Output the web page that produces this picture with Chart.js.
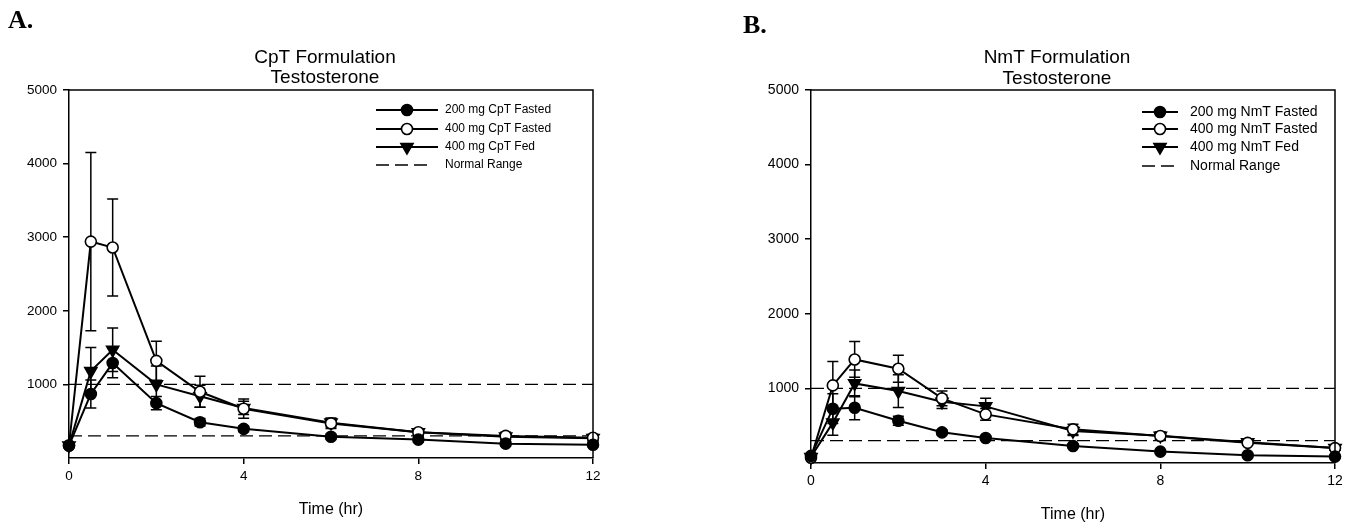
<!DOCTYPE html>
<html>
<head>
<meta charset="utf-8">
<script src="https://cdn.jsdelivr.net/npm/chart.js@4.4.1/dist/chart.umd.min.js"></script>
<style>
    html, body { margin: 0; padding: 0; background: #fff; }
    body { position: relative; width: 1356px; height: 529px; overflow: hidden; }
    .panel { position: absolute; top: 0; height: 529px; }
    #panel-a { left: 0; width: 700px; }
    #panel-b { left: 700px; width: 656px; }
</style>
</head>
<body>
<div class="panel" id="panel-a"><canvas id="cpt-chart" width="700" height="529"></canvas></div>
<div class="panel" id="panel-b"><canvas id="nmt-chart" width="656" height="529"></canvas></div>
<script>
// sampling times (hr)
const times = [0, 0.5, 1, 2, 3, 4, 6, 8, 10, 12];
const xTicks = [0, 4, 8, 12];
const yTicks = [1000, 2000, 3000, 4000, 5000];
const normalRange = [300, 1000];

// panel A - CpT, testosterone (ng/dL), mean and SD
const cpt200Fasted = [170, 870, 1290, 745, 486, 396, 288, 250, 195, 180];
const cpt200FastedSd = [0, 190, 200, 90, 50, 40, 35, 35, 30, 30];
const cpt400Fasted = [170, 2940, 2860, 1320, 900, 670, 470, 350, 300, 275];
const cpt400FastedSd = [0, 1210, 660, 265, 210, 130, 70, 40, 50, 45];
const cpt400Fed = [170, 1180, 1470, 1000, 840, 680, 480, 350, 290, 270];
const cpt400FedSd = [0, 320, 295, 250, 150, 90, 60, 40, 40, 40];

// panel B - NmT
const nmt200Fasted = [95, 728, 741, 567, 411, 335, 228, 153, 104, 86];
const nmt200FastedSd = [0, 200, 160, 60, 30, 30, 25, 20, 20, 20];
const nmt400Fasted = [70, 1040, 1388, 1263, 866, 652, 451, 362, 270, 200];
const nmt400FastedSd = [0, 320, 240, 180, 100, 80, 70, 40, 30, 30];
const nmt400Fed = [80, 541, 1067, 964, 821, 759, 429, 366, 278, 200];
const nmt400FedSd = [0, 170, 180, 220, 90, 110, 60, 50, 30, 30];

const cptNames = ['200 mg CpT Fasted', '400 mg CpT Fasted', '400 mg CpT Fed', 'Normal Range'];
const nmtNames = ['200 mg NmT Fasted', '400 mg NmT Fasted', '400 mg NmT Fed', 'Normal Range'];

const FONT = '"Liberation Sans", Arial, sans-serif';
Chart.defaults.font.family = FONT;
Chart.defaults.color = '#000';

const markerStyles = [
    { pointStyle: 'circle', radius: 5.5, fill: '#000', rotation: 0 },
    { pointStyle: 'circle', radius: 5.5, fill: '#fff', rotation: 0 },
    { pointStyle: 'triangle', radius: 7, fill: '#000', rotation: 180 },
];

function series(values, sd, style, label) {
    return {
        label,
        data: times.map((t, i) => ({ x: t, y: values[i] })),
        errors: sd,
        borderColor: '#000',
        borderWidth: 2,
        backgroundColor: style.fill,
        pointBackgroundColor: style.fill,
        pointBorderColor: '#000',
        pointBorderWidth: 1.6,
        pointStyle: style.pointStyle,
        pointRotation: style.rotation,
        pointRadius: style.radius,
        tension: 0,
        clip: false,
    };
}

function rangeLine(value) {
    return {
        label: 'Normal Range',
        data: [{ x: 0, y: value }, { x: 12, y: value }],
        borderColor: '#000',
        borderWidth: 1.3,
        borderDash: [13, 6],
        pointRadius: 0,
        order: 10,
    };
}

const errorBars = {
    id: 'errorBars',
    beforeDatasetsDraw(chart) {
        const { ctx } = chart;
        const xs = chart.scales.x;
        const ys = chart.scales.y;
        ctx.save();
        ctx.strokeStyle = '#000';
        ctx.lineWidth = 1.5;
        chart.data.datasets.forEach((ds) => {
            if (!ds.errors) return;
            ds.data.forEach((p, i) => {
                const sd = ds.errors[i];
                if (!sd) return;
                const x = xs.getPixelForValue(p.x);
                const hi = ys.getPixelForValue(p.y + sd);
                const lo = ys.getPixelForValue(Math.max(p.y - sd, 0));
                ctx.beginPath();
                ctx.moveTo(x, hi); ctx.lineTo(x, lo);
                ctx.moveTo(x - 5.5, hi); ctx.lineTo(x + 5.5, hi);
                ctx.moveTo(x - 5.5, lo); ctx.lineTo(x + 5.5, lo);
                ctx.stroke();
            });
        });
        ctx.restore();
    },
};

const figureText = {
    id: 'figureText',
    afterDraw(chart, args, opts) {
        const { ctx, chartArea: area } = chart;
        ctx.save();

        // frame top and right
        ctx.strokeStyle = '#000';
        ctx.lineWidth = 1.5;
        ctx.beginPath();
        ctx.moveTo(area.left, area.top);
        ctx.lineTo(area.right, area.top);
        ctx.lineTo(area.right, area.bottom);
        ctx.stroke();

        ctx.fillStyle = '#000';
        ctx.textBaseline = 'alphabetic';
        ctx.textAlign = 'left';
        ctx.font = 'bold 26px "Liberation Serif", "Times New Roman", serif';
        ctx.fillText(opts.panel, opts.panelX, opts.panelY);

        ctx.textAlign = 'center';
        ctx.textBaseline = 'middle';
        ctx.font = `19px ${FONT}`;
        opts.title.forEach((line, i) => ctx.fillText(line, opts.titleX, opts.titleY[i]));

        ctx.font = `16px ${FONT}`;
        ctx.fillText('Time (hr)', (area.left + area.right) / 2, opts.xTitleY);

        // legend
        const lg = opts.legend;
        ctx.font = `${lg.fontSize}px ${FONT}`;
        ctx.textAlign = 'left';
        lg.names.forEach((name, i) => {
            const y = lg.rows[i];
            ctx.lineWidth = 2;
            ctx.beginPath();
            if (i < 3) {
                ctx.setLineDash([]);
                ctx.moveTo(lg.x0, y);
                ctx.lineTo(lg.x1, y);
                ctx.stroke();
                const st = markerStyles[i];
                ctx.fillStyle = st.fill;
                ctx.lineWidth = 1.6;
                Chart.helpers.drawPoint(ctx, {
                    pointStyle: st.pointStyle,
                    radius: st.radius,
                    rotation: st.rotation,
                    borderWidth: 1.6,
                }, (lg.x0 + lg.x1) / 2, y);
            } else {
                ctx.lineWidth = 1.3;
                ctx.setLineDash([13, 6]);
                ctx.moveTo(lg.x0, y);
                ctx.lineTo(lg.dashEnd, y);
                ctx.stroke();
                ctx.setLineDash([]);
            }
            ctx.fillStyle = '#000';
            ctx.fillText(name, lg.textX, y);
        });
        ctx.restore();
    },
};

function makeChart(canvasId, datasets, cfg) {
    return new Chart(document.getElementById(canvasId), {
        type: 'line',
        data: { datasets },
        plugins: [errorBars, figureText],
        options: {
            responsive: false,
            animation: false,
            events: [],
            layout: { padding: { left: 0, top: 90, right: cfg.padRight, bottom: 0 } },
            plugins: {
                legend: { display: false },
                tooltip: { enabled: false },
                figureText: cfg.text,
            },
            scales: {
                x: {
                    type: 'linear',
                    min: 0,
                    max: 12,
                    afterBuildTicks: (scale) => { scale.ticks = xTicks.map((v) => ({ value: v })); },
                    afterFit: (scale) => { scale.height = cfg.xHeight; },
                    border: { display: true, color: '#000', width: 1.5 },
                    grid: { drawOnChartArea: false, drawTicks: true, tickLength: 6, color: '#000', lineWidth: 1.5 },
                    ticks: { font: { size: cfg.tickSize }, color: '#000', padding: 4, maxRotation: 0, callback: (v) => String(v) },
                },
                y: {
                    type: 'linear',
                    min: 0,
                    max: 5000,
                    afterBuildTicks: (scale) => { scale.ticks = yTicks.map((v) => ({ value: v })); },
                    afterFit: (scale) => { scale.width = cfg.yWidth; },
                    border: { display: true, color: '#000', width: 1.5 },
                    grid: { drawOnChartArea: false, drawTicks: true, tickLength: 6, color: '#000', lineWidth: 1.5 },
                    ticks: { font: { size: cfg.tickSize }, color: '#000', padding: 6, callback: (v) => String(v) },
                },
            },
        },
    });
}

makeChart('cpt-chart', [
    series(cpt200Fasted, cpt200FastedSd, markerStyles[0], cptNames[0]),
    series(cpt400Fasted, cpt400FastedSd, markerStyles[1], cptNames[1]),
    series(cpt400Fed, cpt400FedSd, markerStyles[2], cptNames[2]),
    rangeLine(normalRange[0]),
    rangeLine(normalRange[1]),
], {
    padRight: 107,
    xHeight: 71,
    yWidth: 69,
    tickSize: 13.5,
    text: {
        panel: 'A.', panelX: 8, panelY: 28,
        title: ['CpT Formulation', 'Testosterone'], titleX: 325, titleY: [58, 78],
        xTitleY: 510,
        legend: { names: cptNames, rows: [110, 129, 147, 165], x0: 376, x1: 438, dashEnd: 428, textX: 445, fontSize: 12 },
    },
});

makeChart('nmt-chart', [
    series(nmt200Fasted, nmt200FastedSd, markerStyles[0], nmtNames[0]),
    series(nmt400Fasted, nmt400FastedSd, markerStyles[1], nmtNames[1]),
    series(nmt400Fed, nmt400FedSd, markerStyles[2], nmtNames[2]),
    rangeLine(normalRange[0]),
    rangeLine(normalRange[1]),
], {
    padRight: 21,
    xHeight: 66,
    yWidth: 111,
    tickSize: 14,
    text: {
        panel: 'B.', panelX: 43, panelY: 33,
        title: ['NmT Formulation', 'Testosterone'], titleX: 357, titleY: [58, 79],
        xTitleY: 515,
        legend: { names: nmtNames, rows: [112, 129, 147, 166], x0: 442, x1: 478, dashEnd: 474, textX: 490, fontSize: 14 },
    },
});
</script>
</body>
</html>
